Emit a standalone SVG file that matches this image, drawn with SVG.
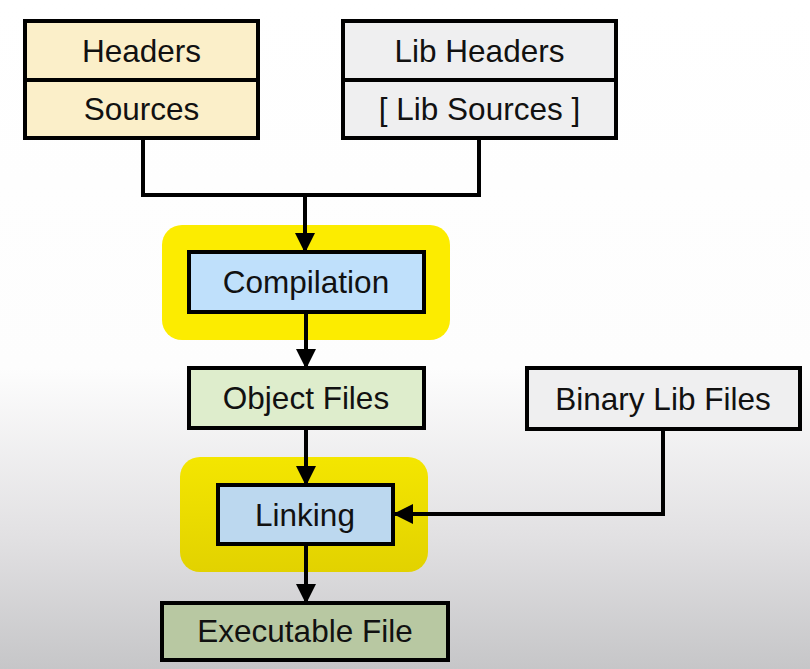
<svg xmlns="http://www.w3.org/2000/svg" width="810" height="669" viewBox="0 0 810 669">
<defs>
<linearGradient id="bg" x1="0" y1="0" x2="0" y2="669" gradientUnits="userSpaceOnUse">
<stop offset="0" stop-color="#ffffff"/>
<stop offset="0.55" stop-color="#fdfdfd"/>
<stop offset="0.8" stop-color="#e2e1e3"/>
<stop offset="1" stop-color="#c6c6c8"/>
</linearGradient>
<linearGradient id="hl2" x1="0" y1="457" x2="0" y2="572" gradientUnits="userSpaceOnUse">
<stop offset="0" stop-color="#f4e600"/>
<stop offset="1" stop-color="#e2d200"/>
</linearGradient>
<marker id="arr" viewBox="0 0 20 20" refX="19" refY="10" markerWidth="20" markerHeight="20" markerUnits="userSpaceOnUse" orient="auto">
<path d="M0,0 L20,10 L0,20 Z" fill="#000"/>
</marker>
<style>
.box{stroke:#000;stroke-width:4}
.t{font-family:"Liberation Sans",Arial,sans-serif;font-size:31.5px;fill:#111;text-anchor:middle}
.c{fill:none;stroke:#000;stroke-width:4}
</style>
</defs>
<rect width="810" height="669" fill="url(#bg)"/>
<g id="hl-compilation"><rect x="162" y="225" width="288" height="115" rx="20" fill="#fcec00"/></g>
<g id="hl-linking"><rect x="180" y="457" width="248" height="115" rx="20" fill="url(#hl2)"/></g>
<g id="connectors">
<path class="c" d="M143,138 V195 H479 V138"/>
<path class="c" d="M305,195 V252" marker-end="url(#arr)"/>
<path class="c" d="M306,312 V368" marker-end="url(#arr)"/>
<path class="c" d="M306,428 V485" marker-end="url(#arr)"/>
<path class="c" d="M306,544 V603" marker-end="url(#arr)"/>
<path class="c" d="M663,429 V514 H394" marker-end="url(#arr)"/>
</g>
<g id="sources">
<rect class="box" x="25" y="21" width="233" height="117" fill="#fbefc9"/>
<line class="box" x1="25" y1="80" x2="258" y2="80"/>
<text class="t" x="141.5" y="62">Headers</text>
<text class="t" x="141.5" y="120">Sources</text>
</g>
<g id="lib">
<rect class="box" x="343" y="21" width="273" height="117" fill="#efeff0"/>
<line class="box" x1="343" y1="80" x2="616" y2="80"/>
<text class="t" x="479.5" y="62">Lib Headers</text>
<text class="t" x="479.5" y="120">[ Lib Sources ]</text>
</g>
<g id="compilation">
<rect class="box" x="189" y="252" width="235" height="60" fill="#bfe0fb"/>
<text class="t" x="306" y="293">Compilation</text>
</g>
<g id="object-files">
<rect class="box" x="189" y="368" width="235" height="60" fill="#deedcc"/>
<text class="t" x="306" y="409">Object Files</text>
</g>
<g id="binary-lib">
<rect class="box" x="527" y="368" width="273" height="61" fill="#efeff0"/>
<text class="t" x="663" y="410">Binary Lib Files</text>
</g>
<g id="linking">
<rect class="box" x="218" y="485" width="175" height="59" fill="#bcd8ef"/>
<text class="t" x="305" y="526">Linking</text>
</g>
<g id="executable">
<rect class="box" x="162" y="603" width="286" height="57" fill="#b8c8a2"/>
<text class="t" x="305" y="642">Executable File</text>
</g>
</svg>
